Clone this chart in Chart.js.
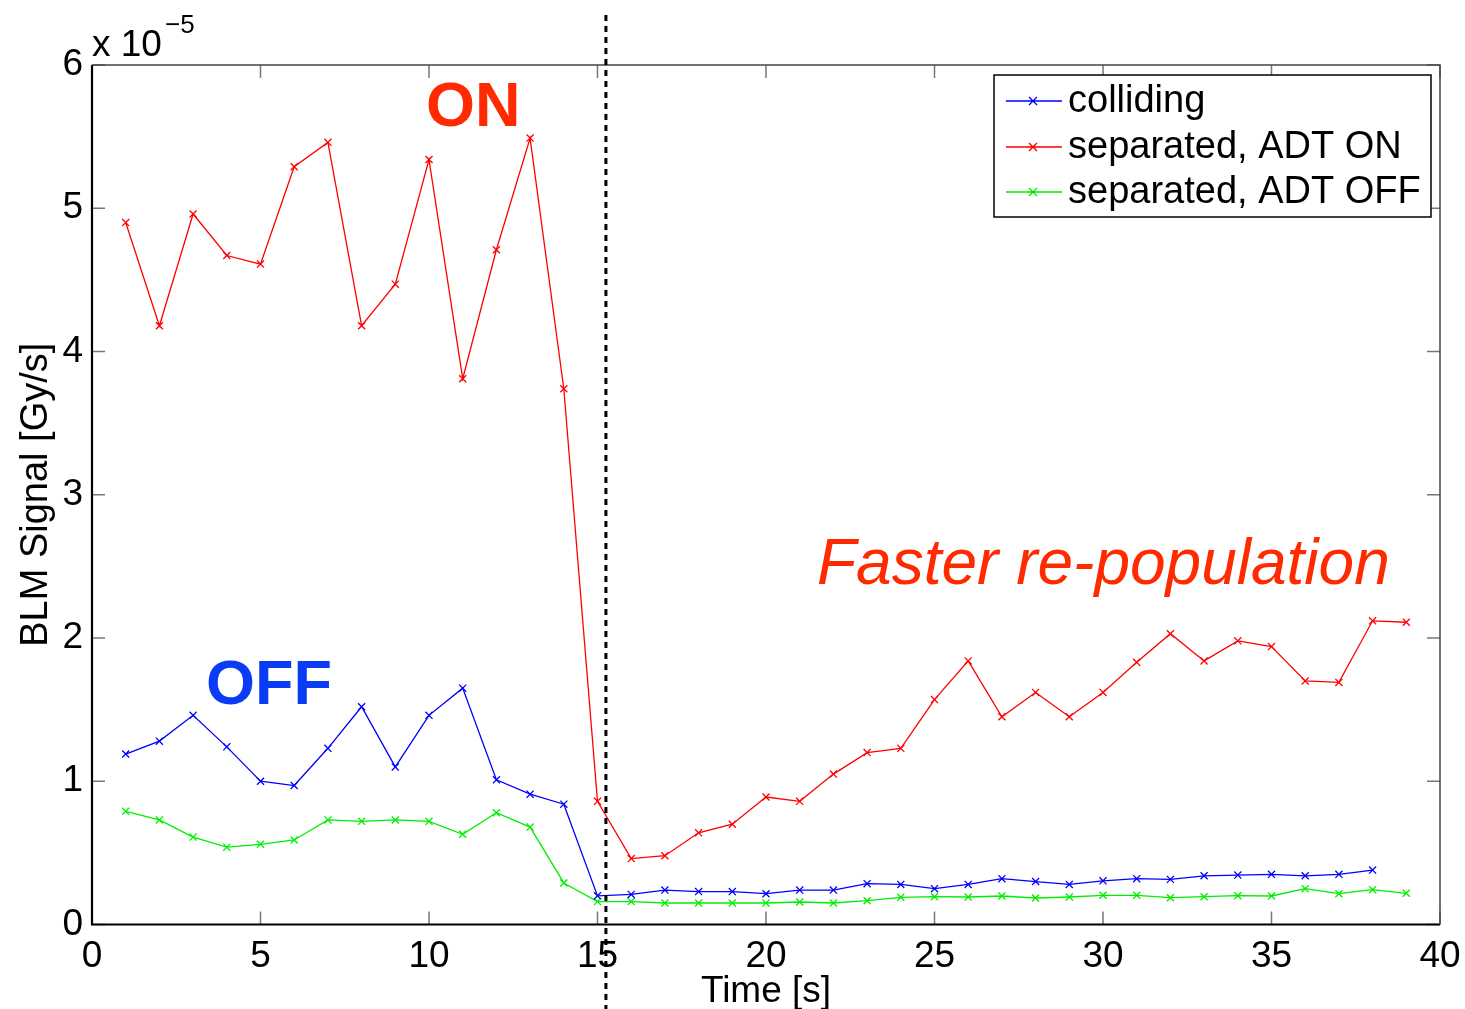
<!DOCTYPE html>
<html>
<head>
<meta charset="utf-8">
<script src="https://cdn.jsdelivr.net/npm/chart.js@4/dist/chart.umd.min.js"></script>
<style>
  html, body { margin: 0; padding: 0; background: #fff; }
  canvas { display: block; }
</style>
</head>
<body>
<canvas id="blmChart" width="1465" height="1009"></canvas>
<script>
// BLM signal, in units of 1e-5 Gy/s
const timeSec = [1, 2, 3, 4, 5, 6, 7, 8, 9, 10, 11, 12, 13, 14, 15, 16, 17, 18, 19, 20,
                 21, 22, 23, 24, 25, 26, 27, 28, 29, 30, 31, 32, 33, 34, 35, 36, 37, 38, 39];

const colliding = [1.19, 1.28, 1.46, 1.24, 1.00, 0.97, 1.23, 1.52, 1.10, 1.46,
                   1.65, 1.01, 0.91, 0.84, 0.20, 0.21, 0.24, 0.23, 0.23, 0.215,
                   0.24, 0.24, 0.285, 0.28, 0.25, 0.28, 0.32, 0.30, 0.28, 0.305,
                   0.32, 0.315, 0.34, 0.345, 0.35, 0.34, 0.35, 0.38];

const adtOn = [4.90, 4.18, 4.96, 4.67, 4.61, 5.29, 5.46, 4.18, 4.47, 5.34,
               3.81, 4.71, 5.49, 3.74, 0.86, 0.46, 0.48, 0.64, 0.70, 0.89,
               0.86, 1.05, 1.20, 1.23, 1.57, 1.84, 1.45, 1.62, 1.45, 1.62,
               1.83, 2.03, 1.84, 1.98, 1.94, 1.70, 1.69, 2.12, 2.11];

const adtOff = [0.79, 0.73, 0.61, 0.54, 0.56, 0.59, 0.73, 0.72, 0.73, 0.72,
                0.63, 0.78, 0.68, 0.29, 0.16, 0.16, 0.15, 0.15, 0.15, 0.15,
                0.157, 0.15, 0.166, 0.19, 0.194, 0.192, 0.199, 0.185, 0.192, 0.204,
                0.204, 0.187, 0.194, 0.201, 0.199, 0.25, 0.215, 0.243, 0.218];

const seriesNames = ["colliding", "separated, ADT ON", "separated, ADT OFF"];
const seriesColors = ["#0000ff", "#ff0000", "#00ee00"];

const xTicks = [0, 5, 10, 15, 20, 25, 30, 35, 40];
const yTicks = [0, 1, 2, 3, 4, 5, 6];
const switchTime = 15.25; // dashed marker

const FONT = "'Liberation Sans', Arial, Helvetica, sans-serif";

function toPoints(values) {
    return values.map((v, i) => ({ x: timeSec[i], y: v }));
}

const datasets = [colliding, adtOn, adtOff].map((vals, i) => ({
    label: seriesNames[i],
    data: toPoints(vals),
    borderColor: seriesColors[i],
    backgroundColor: seriesColors[i],
    borderWidth: 1.3,
    pointStyle: "crossRot",
    pointRadius: 5,
    pointBorderWidth: 1.3,
    tension: 0,
    fill: false
}));

// matlab style box, inward ticks, dashed marker, texts and legend
const decorations = {
    id: "decorations",
    afterDatasetsDraw(chart) {
        const ctx = chart.ctx;
        const a = chart.chartArea;
        const xs = chart.scales.x;
        const ys = chart.scales.y;

        ctx.save();

        // inward ticks
        ctx.strokeStyle = "#777";
        ctx.lineWidth = 1.5;
        const tl = 13;
        xTicks.forEach(t => {
            const px = xs.getPixelForValue(t);
            ctx.beginPath();
            ctx.moveTo(px, a.bottom); ctx.lineTo(px, a.bottom - tl);
            ctx.moveTo(px, a.top); ctx.lineTo(px, a.top + tl);
            ctx.stroke();
        });
        yTicks.forEach(t => {
            const py = ys.getPixelForValue(t);
            ctx.beginPath();
            ctx.moveTo(a.left, py); ctx.lineTo(a.left + tl, py);
            ctx.moveTo(a.right, py); ctx.lineTo(a.right - tl, py);
            ctx.stroke();
        });

        // box
        ctx.strokeStyle = "#000";
        ctx.lineWidth = 2.2;
        ctx.beginPath();
        ctx.moveTo(a.left, a.top); ctx.lineTo(a.left, a.bottom); ctx.lineTo(a.right, a.bottom);
        ctx.stroke();
        ctx.strokeStyle = "#444";
        ctx.lineWidth = 1.5;
        ctx.beginPath();
        ctx.moveTo(a.left, a.top); ctx.lineTo(a.right, a.top); ctx.lineTo(a.right, a.bottom);
        ctx.stroke();

        // dashed switch line
        const sx = xs.getPixelForValue(switchTime);
        ctx.strokeStyle = "#000";
        ctx.lineWidth = 3;
        ctx.setLineDash([6, 5]);
        ctx.beginPath();
        ctx.moveTo(sx, 15); ctx.lineTo(sx, chart.height);
        ctx.stroke();
        ctx.setLineDash([]);

        // exponent
        ctx.fillStyle = "#000";
        ctx.textBaseline = "alphabetic";
        ctx.textAlign = "left";
        ctx.font = "37px " + FONT;
        ctx.fillText("x 10", 92, 56);
        ctx.font = "26px " + FONT;
        ctx.fillText("\u22125", 165, 33);

        // annotations
        ctx.font = "bold 63px " + FONT;
        ctx.fillStyle = "#ff2a00";
        ctx.fillText("ON", 426, 126);
        ctx.fillStyle = "#0a3cf5";
        ctx.fillText("OFF", 206, 704);
        ctx.font = "italic 64px " + FONT;
        ctx.fillStyle = "#ff2a00";
        ctx.fillText("Faster re-population", 817, 584);

        // legend
        const lx = 994, ly = 75, lw = 437, lh = 142;
        ctx.fillStyle = "#fff";
        ctx.fillRect(lx, ly, lw, lh);
        ctx.strokeStyle = "#000";
        ctx.lineWidth = 1.5;
        ctx.strokeRect(lx, ly, lw, lh);
        const rows = [101, 147, 192];
        ctx.font = "38px " + FONT;
        ctx.textBaseline = "middle";
        chart.data.datasets.forEach((ds, i) => {
            const y = rows[i];
            ctx.strokeStyle = ds.borderColor;
            ctx.lineWidth = 1.3;
            ctx.beginPath();
            ctx.moveTo(1006, y); ctx.lineTo(1062, y);
            const m = 4;
            ctx.moveTo(1033 - m, y - m); ctx.lineTo(1033 + m, y + m);
            ctx.moveTo(1033 - m, y + m); ctx.lineTo(1033 + m, y - m);
            ctx.stroke();
            ctx.fillStyle = "#000";
            ctx.fillText(ds.label, 1068, y + 1);
        });

        ctx.restore();
    }
};

new Chart(document.getElementById("blmChart"), {
    type: "line",
    data: { datasets: datasets },
    options: {
        responsive: false,
        animation: false,
        devicePixelRatio: 1,
        layout: { padding: { top: 65, right: 25, left: 0, bottom: 0 } },
        plugins: {
            legend: { display: false },
            tooltip: { enabled: false }
        },
        scales: {
            x: {
                type: "linear",
                min: 0,
                max: 40,
                afterBuildTicks(scale) { scale.ticks = xTicks.map(v => ({ value: v })); },
                afterFit(scale) {
                    scale.height = 84.5;
                    scale.paddingLeft = 0;
                    scale.paddingRight = 0;
                },
                grid: { display: false, drawTicks: false },
                border: { display: false },
                ticks: {
                    color: "#000",
                    padding: 10,
                    maxRotation: 0,
                    font: { family: FONT, size: 37 }
                },
                title: {
                    display: true,
                    text: "Time [s]",
                    color: "#000",
                    padding: { top: 0, bottom: -5 },
                    font: { family: FONT, size: 37 }
                }
            },
            y: {
                min: 0,
                max: 6,
                afterBuildTicks(scale) { scale.ticks = yTicks.map(v => ({ value: v })); },
                afterFit(scale) {
                    scale.width = 92;
                    scale.paddingTop = 0;
                    scale.paddingBottom = 0;
                },
                grid: { display: false, drawTicks: false },
                border: { display: false },
                ticks: {
                    color: "#000",
                    padding: 9,
                    font: { family: FONT, size: 37 }
                },
                title: {
                    display: true,
                    text: "BLM Signal [Gy/s]",
                    color: "#000",
                    padding: { top: 14, bottom: 0 },
                    font: { family: FONT, size: 38 }
                }
            }
        }
    },
    plugins: [decorations]
});
</script>
</body>
</html>
